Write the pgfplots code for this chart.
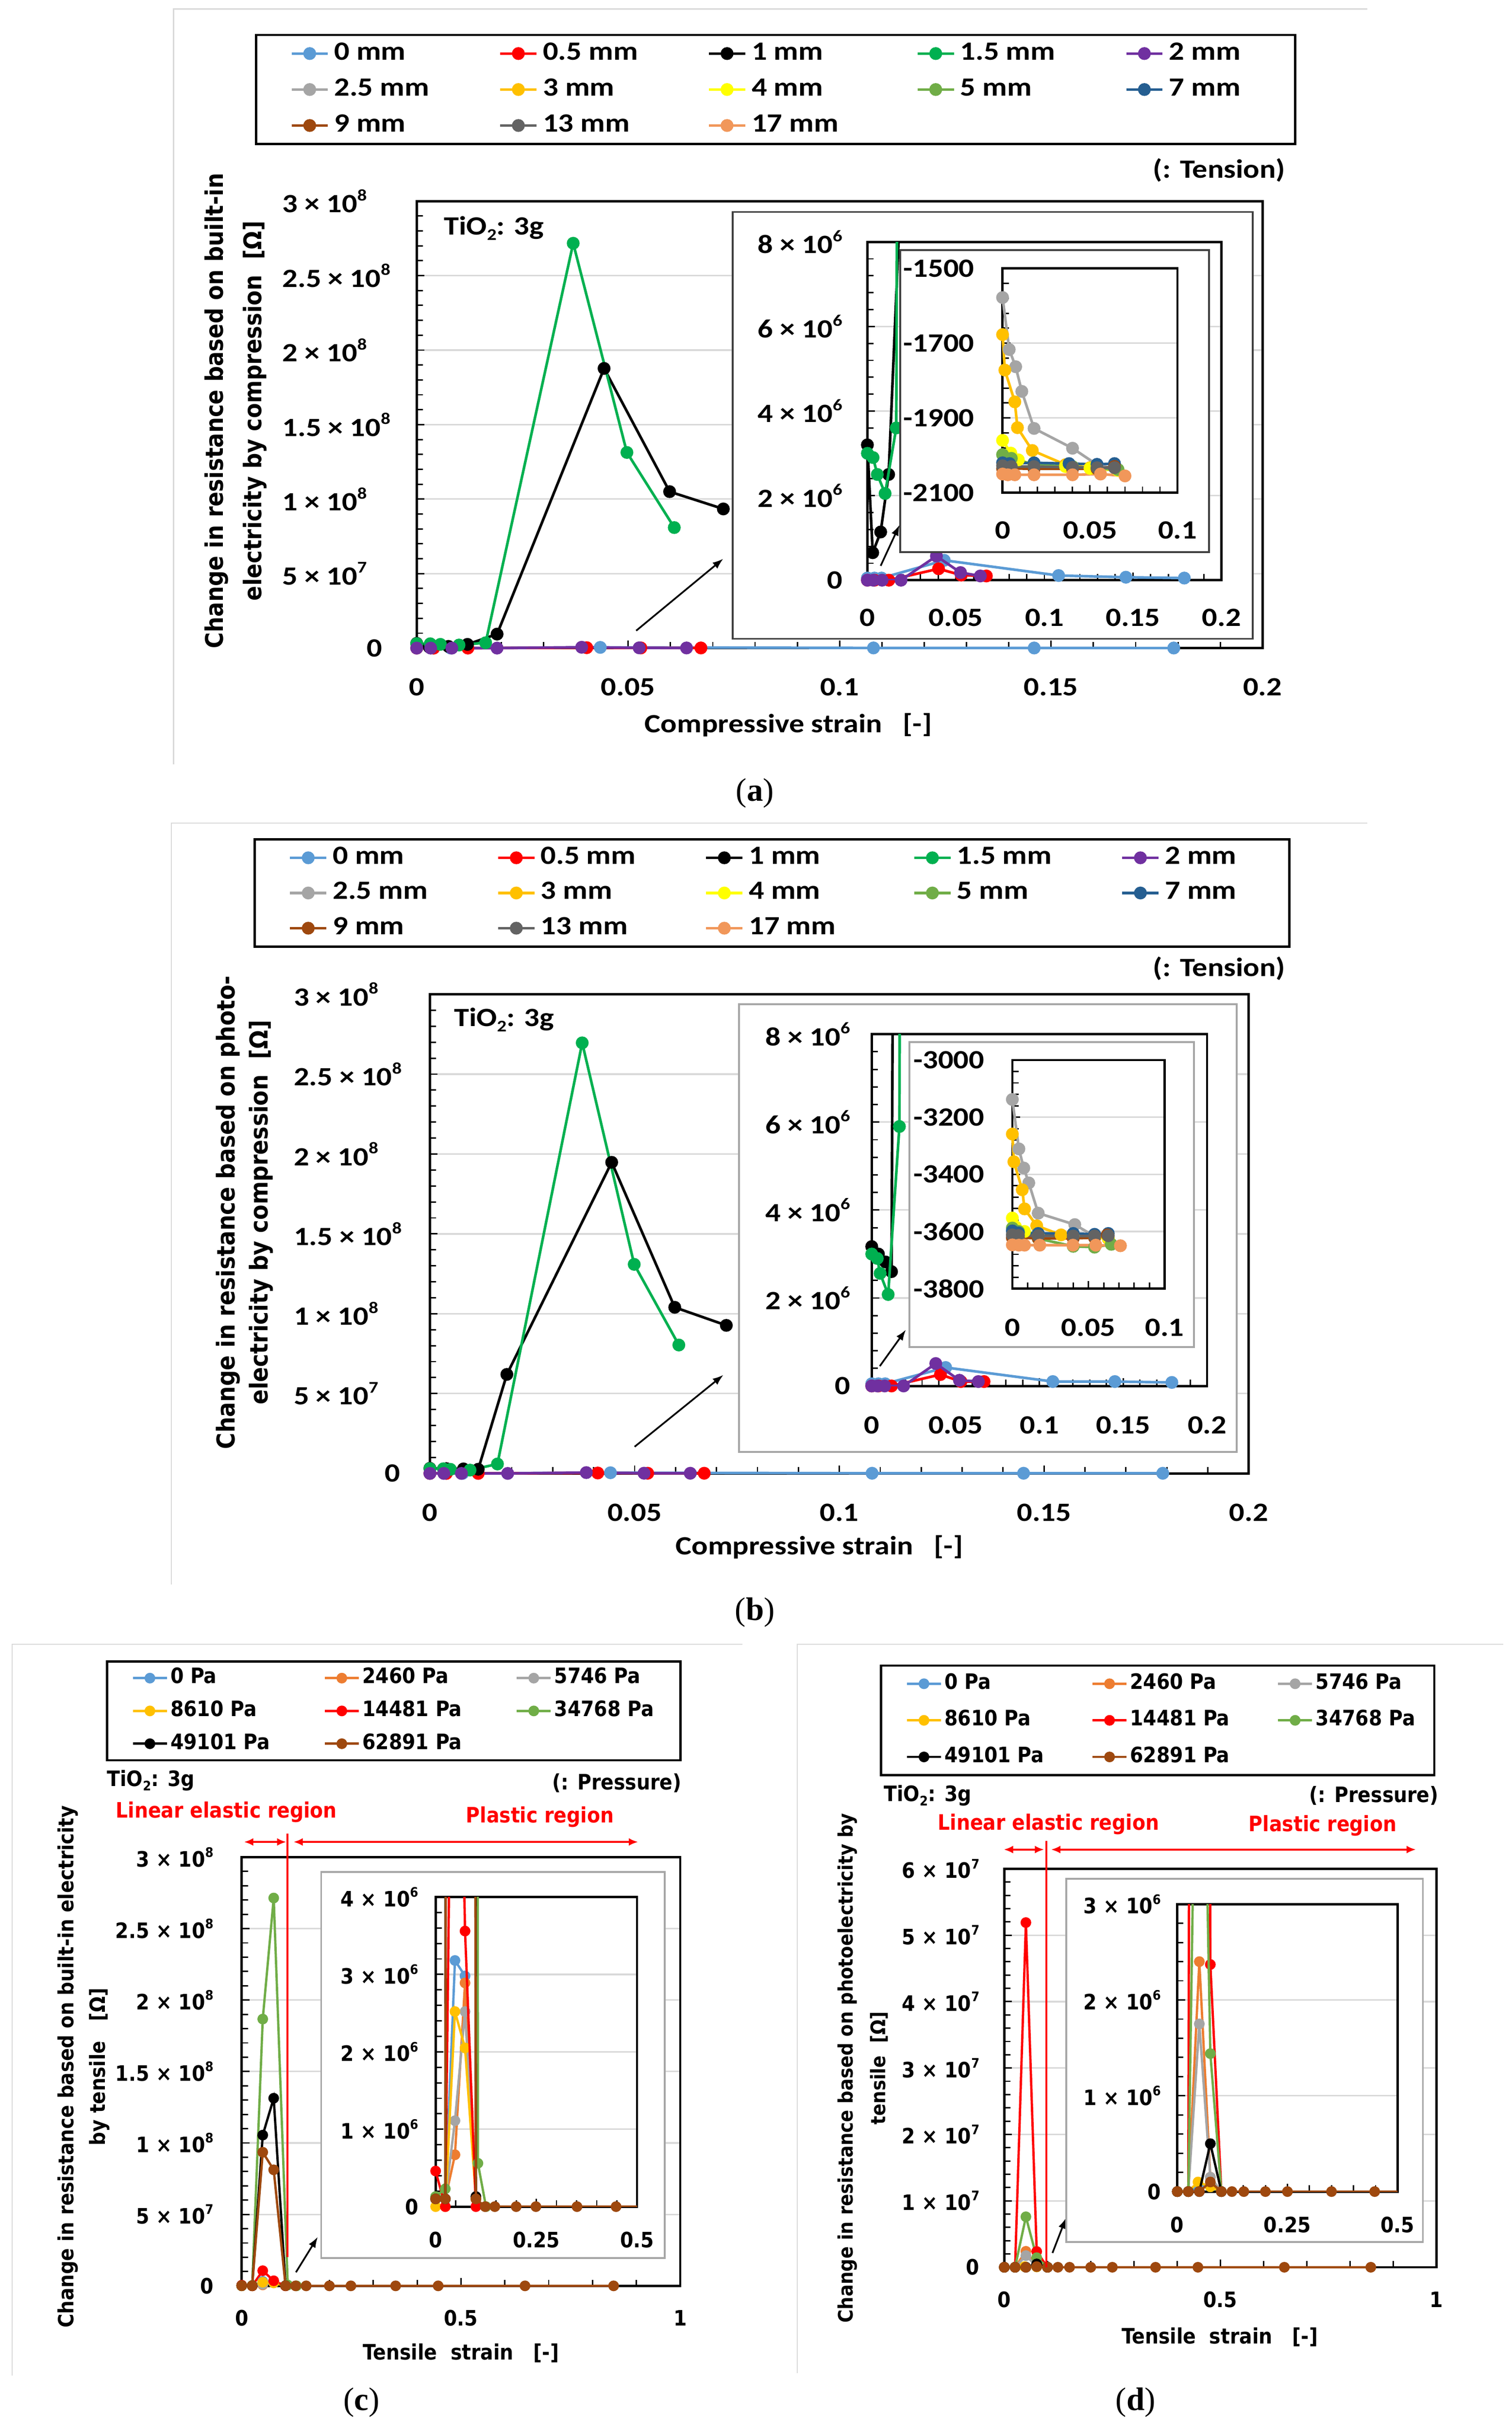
\documentclass[border=0pt]{standalone}
\usepackage{pgfplots}
\pgfplotsset{compat=1.18}
\usepackage{pgfplotstable}
\usepackage{graphicx}
\usepackage{fontspec}
\usetikzlibrary{arrows.meta}
\newfontfamily\fa{Carlito}[FakeStretch=1.15]
\newfontfamily\fb{DejaVu Sans}[FakeStretch=0.9]
\newfontfamily\fs{Liberation Serif}
\newcommand\fA{\fa\bfseries\fontsize{17}{19}\selectfont}
\newcommand\fC{\fb\bfseries\fontsize{13.7}{16}\selectfont}
\newcommand\sups[1]{\raisebox{0.45em}{\scalebox{0.62}{#1}}}
\newcommand\subs[1]{\raisebox{-0.2em}{\scalebox{0.62}{#1}}}
\newcommand\LA[1]{\makebox[102.9pt][l]{#1}}
\newcommand\LAe[1]{\makebox[56pt][l]{#1}}
\newcommand\LB[1]{\makebox[102.5pt][l]{#1}}
\newcommand\LBe[1]{\makebox[55pt][l]{#1}}
\newcommand\LC[1]{\makebox[97.3pt][l]{#1}}
\newcommand\LCe[1]{\makebox[64pt][l]{#1}}
\newcommand\LD[1]{\makebox[93.2pt][l]{#1}}
\newcommand\LDe[1]{\makebox[59pt][l]{#1}}

\definecolor{ma}{HTML}{5B9BD5}
\definecolor{mb}{HTML}{FF0000}
\definecolor{mc}{HTML}{000000}
\definecolor{md}{HTML}{00B050}
\definecolor{me}{HTML}{7030A0}
\definecolor{mf}{HTML}{A5A5A5}
\definecolor{mg}{HTML}{FFC000}
\definecolor{mh}{HTML}{FFFF00}
\definecolor{mi}{HTML}{70AD47}
\definecolor{mj}{HTML}{255E91}
\definecolor{mk}{HTML}{9E480E}
\definecolor{ml}{HTML}{636363}
\definecolor{mm}{HTML}{F1975A}
\definecolor{pa}{HTML}{5B9BD5}
\definecolor{pb}{HTML}{ED7D31}
\definecolor{pc}{HTML}{A5A5A5}
\definecolor{pd}{HTML}{FFC000}
\definecolor{pe}{HTML}{FF0000}
\definecolor{pf}{HTML}{70AD47}
\definecolor{pg}{HTML}{000000}
\definecolor{ph}{HTML}{9E480E}
\definecolor{grd}{HTML}{D9D9D9}
\definecolor{frmA}{HTML}{404040}
\definecolor{frmB}{HTML}{A6A6A6}

\tikzset{S/.style={color=#1, mark=*, mark options={solid, line width=0.5pt}},
  arr/.style={-{Latex[length=7pt,width=5pt]}, line width=1.1pt, black}}

\pgfplotsset{
 xl/.style={scale only axis, anchor=south west,
   axis line style={black, line width=1.5pt},
   tick align=inside, tick pos=left,
   major tick length=5pt, minor tick length=4pt,
   every tick/.style={black, line width=0.9pt},
   minor x tick num=4, minor y tick num=4,
   ymajorgrids, major grid style={draw=grd, line width=1pt},
   scaled x ticks=false, scaled y ticks=false,
   xticklabel style={anchor=base, inner sep=0pt},
   yticklabel style={inner sep=0pt},
 },
 pA/.style={every axis plot/.append style={line width=1.7pt, mark size=3.9pt}, tick label style={font=\fA}},
 pC/.style={every axis plot/.append style={line width=1.5pt, mark size=3.2pt}, tick label style={font=\fC}},
}

% ---------------- Panel (a) data ----------------
\pgfplotstableread{
x y
0 0.05e6
0.004 0.05e6
0.008 0.05e6
0.0434 0.47e6
0.108 0.11e6
0.146 0.07e6
0.179 0.05e6
}\tAa
\pgfplotstableread{
x y
0 0
0.004 0
0.0121 0
0.0402 0.27e6
0.053 0.12e6
0.0672 0.1e6
}\tAb
\pgfplotstableread{
x y
0 3.2e6
0.003 0.65e6
0.0075 1.14e6
0.012 2.5e6
0.019 9.4e6
0.0443 1.877e8
0.0598 1.05e8
0.0725 0.934e8
}\tAc
\pgfplotstableread{
x y
0 3.0e6
0.0032 2.9e6
0.0056 2.5e6
0.01 2.05e6
0.0163 3.6e6
0.037 2.717e8
0.0497 1.313e8
0.0609 0.809e8
}\tAd
\pgfplotstableread{
x y
0 0
0.0033 0
0.0083 0
0.019 0
0.039 0.57e6
0.0526 0.18e6
0.0638 0.1e6
}\tAe
\pgfplotstableread{
x y
0 -1578
0.0038 -1717
0.0075 -1763
0.011 -1829
0.018 -1928
0.040 -1981
0.054 -2025
0.066 -2038
}\tAf
\pgfplotstableread{
x y
0 -1677
0.0013 -1772
0.007 -1857
0.0085 -1926
0.017 -1987
0.036 -2025
0.05 -2033
0.066 -2040
}\tAg
\pgfplotstableread{
x y
0 -1960
0.0047 -1994
0.009 -2012
0.018 -2025
0.036 -2030
0.05 -2035
0.066 -2040
}\tAh
\pgfplotstableread{
x y
0 -1998
0.005 -2008
0.018 -2025
0.04 -2030
0.054 -2035
0.066 -2038
}\tAi
\pgfplotstableread{
x y
0 -2020
0.004 -2022
0.018 -2020
0.038 -2022
0.054 -2024
0.064 -2022
}\tAj
\pgfplotstableread{
x y
0 -2035
0.005 -2035
0.018 -2036
0.04 -2036
0.054 -2036
0.064 -2030
}\tAk
\pgfplotstableread{
x y
0 -2028
0.005 -2030
0.018 -2030
0.04 -2032
0.054 -2033
0.064 -2033
}\tAl
\pgfplotstableread{
x y
0 -2050
0.003 -2052
0.007 -2052
0.018 -2052
0.04 -2052
0.056 -2050
0.07 -2055
}\tAm

% ---------------- Panel (b) data ----------------
\pgfplotstableread{
x y
0 0.05e6
0.004 0.05e6
0.008 0.05e6
0.0441 0.42e6
0.108 0.1e6
0.145 0.1e6
0.179 0.08e6
}\tBa
\pgfplotstableread{
x y
0 0
0.004 0
0.0118 0
0.041 0.26e6
0.0532 0.1e6
0.067 0.1e6
}\tBb
\pgfplotstableread{
x y
0 3.17e6
0.004 3.0e6
0.0082 2.82e6
0.0118 2.6e6
0.0188 6.2e7
0.0444 1.948e8
0.0598 1.04e8
0.0724 0.927e8
}\tBc
\pgfplotstableread{
x y
0 3.0e6
0.0033 2.9e6
0.005 2.56e6
0.0098 2.08e6
0.0165 5.9e6
0.0372 2.696e8
0.0499 1.309e8
0.0608 0.804e8
}\tBd
\pgfplotstableread{
x y
0 0
0.0034 0
0.0077 0
0.019 0
0.0382 0.51e6
0.0523 0.13e6
0.0636 0.1e6
}\tBe
\pgfplotstableread{
x y
0 -3138
0.0043 -3311
0.0075 -3378
0.0108 -3430
0.017 -3536
0.041 -3576
0.054 -3617
0.063 -3625
}\tBf
\pgfplotstableread{
x y
0 -3259
0.001 -3356
0.0065 -3454
0.008 -3521
0.016 -3580
0.032 -3612
0.054 -3620
0.063 -3625
}\tBg
\pgfplotstableread{
x y
0 -3553
0.002 -3583
0.008 -3600
0.017 -3610
0.04 -3615
0.054 -3620
0.063 -3622
}\tBh
\pgfplotstableread{
x y
0 -3588
0.004 -3600
0.017 -3625
0.04 -3652
0.054 -3655
0.065 -3645
}\tBi
\pgfplotstableread{
x y
0 -3598
0.004 -3605
0.017 -3607
0.04 -3607
0.054 -3610
0.063 -3607
}\tBj
\pgfplotstableread{
x y
0 -3622
0.004 -3622
0.017 -3624
0.04 -3624
0.054 -3622
0.0624 -3612
}\tBk
\pgfplotstableread{
x y
0 -3612
0.004 -3614
0.017 -3615
0.04 -3616
0.054 -3616
0.063 -3615
}\tBl
\pgfplotstableread{
x y
0 -3647
0.0043 -3648
0.008 -3648
0.018 -3648
0.0398 -3648
0.0548 -3648
0.071 -3650
}\tBm

% ---------------- Panel (c) data ----------------
\pgfplotstableread{
x y
0 0.1e6
0.024 0.1e6
0.048 3.18e6
0.073 2.98e6
0.1 0.1e6
}\tCa
\pgfplotstableread{
x y
0 0.1e6
0.024 0.1e6
0.048 0.67e6
0.073 2.89e6
0.1 0.1e6
}\tCb
\pgfplotstableread{
x y
0 0.1e6
0.024 0.1e6
0.048 1.11e6
0.073 2.52e6
0.1 0.1e6
}\tCc
\pgfplotstableread{
x y
0 0
0.024 0
0.048 2.52e6
0.073 2.05e6
0.1 0.1e6
}\tCd
\pgfplotstableread{
x y
0 0.46e6
0.024 0
0.048 1.06e7
0.073 3.56e6
0.1 0
}\tCe
\pgfplotstableread{
x y
0 0.13e6
0.024 0.23e6
0.048 1.867e8
0.073 2.714e8
0.105 0.56e6
0.125 0
}\tCf
\pgfplotstableread{
x y
0 0.1e6
0.024 0.1e6
0.048 1.055e8
0.073 1.313e8
0.1 0.13e6
}\tCg
\pgfplotstableread{
x y
0 0.1e6
0.024 0.1e6
0.048 0.935e8
0.073 0.812e8
0.1 0.1e6
0.123 0
0.147 0
0.2 0
0.249 0
0.351 0
0.448 0
0.646 0
0.848 0
}\tCh

% ---------------- Panel (d) data ----------------
\pgfplotstableread{
x y
0 0
0.025 0
0.05 0.05e6
0.075 0.05e6
0.1 0
}\tDa
\pgfplotstableread{
x y
0 0
0.025 0
0.05 2.4e6
0.075 0.15e6
0.1 0
}\tDb
\pgfplotstableread{
x y
0 0
0.025 0
0.05 1.75e6
0.075 0.15e6
0.1 0
}\tDc
\pgfplotstableread{
x y
0 0
0.025 0
0.047 0.1e6
0.075 0.05e6
0.1 0
}\tDd
\pgfplotstableread{
x y
0 0
0.025 0
0.05 5.19e7
0.075 2.37e6
0.1 0
}\tDe
\pgfplotstableread{
x y
0 0
0.025 0
0.05 7.6e6
0.075 1.44e6
0.1 0
}\tDf
\pgfplotstableread{
x y
0 0
0.025 0
0.05 0
0.075 0.5e6
0.1 0
}\tDg
\pgfplotstableread{
x y
0 0
0.025 0
0.05 0
0.075 0.1e6
0.1 0
0.124 0
0.151 0
0.2 0
0.25 0
0.35 0
0.448 0
0.648 0
0.848 0
}\tDh

\newcommand\plotApos{%
 \addplot[S=ma] table {\tAa};
 \addplot[S=mb] table {\tAb};
 \addplot[S=mc] table {\tAc};
 \addplot[S=md] table {\tAd};
 \addplot[S=me] table {\tAe};}
\newcommand\plotAneg{%
 \addplot[S=mf] table {\tAf};
 \addplot[S=mg] table {\tAg};
 \addplot[S=mh] table {\tAh};
 \addplot[S=mi] table {\tAi};
 \addplot[S=mj] table {\tAj};
 \addplot[S=mk] table {\tAk};
 \addplot[S=ml] table {\tAl};
 \addplot[S=mm] table {\tAm};}
\newcommand\plotBpos{%
 \addplot[S=ma] table {\tBa};
 \addplot[S=mb] table {\tBb};
 \addplot[S=mc] table {\tBc};
 \addplot[S=md] table {\tBd};
 \addplot[S=me] table {\tBe};}
\newcommand\plotBneg{%
 \addplot[S=mf] table {\tBf};
 \addplot[S=mg] table {\tBg};
 \addplot[S=mh] table {\tBh};
 \addplot[S=mi] table {\tBi};
 \addplot[S=mj] table {\tBj};
 \addplot[S=mk] table {\tBk};
 \addplot[S=ml] table {\tBl};
 \addplot[S=mm] table {\tBm};}
\newcommand\negimages{%
 \addlegendimage{S=mf}\addlegendimage{S=mg}\addlegendimage{S=mh}\addlegendimage{S=mi}%
 \addlegendimage{S=mj}\addlegendimage{S=mk}\addlegendimage{S=ml}\addlegendimage{S=mm}}
\newcommand\plotC{%
 \addplot[S=pa] table {\tCa};
 \addplot[S=pb] table {\tCb};
 \addplot[S=pc] table {\tCc};
 \addplot[S=pd] table {\tCd};
 \addplot[S=pe] table {\tCe};
 \addplot[S=pf] table {\tCf};
 \addplot[S=pg] table {\tCg};
 \addplot[S=ph] table {\tCh};}
\newcommand\plotD{%
 \addplot[S=pa] table {\tDa};
 \addplot[S=pb] table {\tDb};
 \addplot[S=pc] table {\tDc};
 \addplot[S=pd] table {\tDd};
 \addplot[S=pe] table {\tDe};
 \addplot[S=pf] table {\tDf};
 \addplot[S=pg] table {\tDg};
 \addplot[S=ph] table {\tDh};}

\begin{document}
\begin{tikzpicture}
\path[use as bounding box] (0pt,0pt) rectangle (975pt,-1566pt);
\fill[white] (0pt,0pt) rectangle (975pt,-1566pt);
\draw[grd, line width=0.8pt] (882pt,-5.8pt) -- (112pt,-5.8pt) -- (112pt,-493pt);
\draw[grd, line width=0.8pt] (882pt,-530.8pt) -- (110.5pt,-530.8pt) -- (110.5pt,-1022pt);
\draw[grd, line width=0.8pt] (478.8pt,-1060.5pt) -- (7.8pt,-1060.5pt) -- (7.8pt,-1532pt);
\draw[grd, line width=0.8pt] (969.6pt,-1060.5pt) -- (514.3pt,-1060.5pt) -- (514.3pt,-1530.6pt);

%%%%%%%%%%%%%%%%%%%% (a) main
\begin{axis}[xl, pA, clip=false,
  at={(268.8pt,-418pt)}, width=545.6pt, height=288.3pt,
  xmin=0, xmax=0.2, ymin=0, ymax=3e8,
  xtick={0,0.05,0.1,0.15,0.2}, xticklabels={0,0.05,0.1,0.15,0.2},
  ytick={0,5e7,1e8,1.5e8,2e8,2.5e8,3e8},
  yticklabels={\hspace*{54.5pt}0,5 × 10\sups{7},1 × 10\sups{8},1.5 × 10\sups{8},2 × 10\sups{8},2.5 × 10\sups{8},3 × 10\sups{8}},
  yticklabel style={anchor=west, xshift=-86.8pt},
  xticklabel style={yshift=-30.8pt},
  xlabel={Compressive strain\ \ \ [-]},
  xlabel style={font=\fA, at={(axis description cs:0.4393,-0.172)}, anchor=center},
  ylabel={Change in resistance based on built-in\\electricity by compression\ \ [Ω]},
  ylabel style={font=\fb\bfseries\fontsize{15.7}{24.9}\selectfont, align=center, at={(axis description cs:-0.2141,0.5307)}, anchor=center},
  legend columns=5,
  legend style={at={(-0.1912,1.3743)}, anchor=north west, draw=black, line width=1.5pt, fill=white,
    inner xsep=22pt, inner ysep=4pt, row sep=7.2pt, font=\fA,
    nodes={inner xsep=3.3pt, inner ysep=0pt, text height=12pt, text depth=4pt}},
  legend image code/.code={\draw[mark repeat=2,mark phase=2,#1,line width=1.7pt,mark size=3.9pt] plot coordinates {(0pt,0pt) (11.7pt,0pt) (23.4pt,0pt)};},
  legend entries={\LA{0 mm},\LA{0.5 mm},\LA{1 mm},\LA{1.5 mm},\LAe{2 mm},\LA{2.5 mm},\LA{3 mm},\LA{4 mm},\LA{5 mm},\LAe{7 mm},\LA{9 mm},\LA{13 mm},\LA{17 mm}},
]
\plotApos
\negimages
\draw[arr] (axis cs:0.0519,1.17e7) -- (axis cs:0.0725,6.0e7);
\node[anchor=west, font=\fA, inner sep=0pt] at (rel axis cs:0.032,0.939) {TiO\subs{2}: 3g};
\end{axis}
\node[anchor=east, font=\fA, inner sep=0pt] at (829.3pt,-109.9pt) {(: Tension)};

% (a) inset 1
\filldraw[fill=white, draw=frmA, line width=1.2pt] (472.6pt,-136.7pt) rectangle (808pt,-412pt);
\begin{axis}[xl, pA, clip mode=individual,
  at={(559.5pt,-374.2pt)}, width=228.4pt, height=218.2pt,
  xmin=0, xmax=0.2, ymin=0, ymax=8e6,
  xtick={0,0.05,0.1,0.15,0.2}, xticklabels={0,0.05,0.1,0.15,0.2},
  ytick={0,2e6,4e6,6e6,8e6},
  yticklabels={0,2 × 10\sups{6},4 × 10\sups{6},6 × 10\sups{6},8 × 10\sups{6}},
  yticklabel style={anchor=east, xshift=-16pt},
  xticklabel style={yshift=-29.7pt},
]
\plotApos
\draw[arr] (axis cs:0.0075,0.34e6) -- (axis cs:0.0182,1.31e6);
\end{axis}

% (a) inset 2
\filldraw[fill=white, draw=frmA, line width=1.2pt] (580.7pt,-161.2pt) rectangle (779.8pt,-356pt);
\begin{axis}[xl, pA, clip=false,
  at={(646.7pt,-317.8pt)}, width=112.8pt, height=144.7pt,
  xmin=0, xmax=0.1, ymin=-2100, ymax=-1500,
  xtick={0,0.05,0.1}, xticklabels={0,0.05,0.1},
  ytick={-2100,-1900,-1700,-1500},
  yticklabels={-2100,-1900,-1700,-1500},
  yticklabel style={anchor=east, xshift=-18.1pt},
  xticklabel style={yshift=-29.7pt},
]
\plotAneg
\end{axis}

%%%%%%%%%%%%%%%%%%%% (b) main
\begin{axis}[xl, pA, clip=false,
  at={(277.3pt,-950.3pt)}, width=528.2pt, height=309pt,
  xmin=0, xmax=0.2, ymin=0, ymax=3e8,
  xtick={0,0.05,0.1,0.15,0.2}, xticklabels={0,0.05,0.1,0.15,0.2},
  ytick={0,5e7,1e8,1.5e8,2e8,2.5e8,3e8},
  yticklabels={\hspace*{58.7pt}0,5 × 10\sups{7},1 × 10\sups{8},1.5 × 10\sups{8},2 × 10\sups{8},2.5 × 10\sups{8},3 × 10\sups{8}},
  yticklabel style={anchor=west, xshift=-88pt},
  xticklabel style={yshift=-30.8pt},
  xlabel={Compressive strain\ \ \ [-]},
  xlabel style={font=\fA, at={(axis description cs:0.4756,-0.154)}, anchor=center},
  ylabel={Change in resistance based on photo-\\electricity by compression\ \ [Ω]},
  ylabel style={font=\fb\bfseries\fontsize{15.9}{21.3}\selectfont, align=center, at={(axis description cs:-0.2262,0.5447)}, anchor=center},
  legend columns=5,
  legend style={at={(-0.2154,1.3262)}, anchor=north west, draw=black, line width=1.5pt, fill=white,
    inner xsep=22pt, inner ysep=4pt, row sep=6.7pt, font=\fA,
    nodes={inner xsep=3.3pt, inner ysep=0pt, text height=12pt, text depth=4pt}},
  legend image code/.code={\draw[mark repeat=2,mark phase=2,#1,line width=1.7pt,mark size=3.9pt] plot coordinates {(0pt,0pt) (11.7pt,0pt) (23.4pt,0pt)};},
  legend entries={\LB{0 mm},\LB{0.5 mm},\LB{1 mm},\LB{1.5 mm},\LBe{2 mm},\LB{2.5 mm},\LB{3 mm},\LB{4 mm},\LB{5 mm},\LBe{7 mm},\LB{9 mm},\LB{13 mm},\LB{17 mm}},
]
\plotBpos
\negimages
\draw[arr] (axis cs:0.05,1.67e7) -- (axis cs:0.0717,6.17e7);
\node[anchor=west, font=\fA, inner sep=0pt] at (rel axis cs:0.0292,0.9466) {TiO\subs{2}: 3g};
\end{axis}
\node[anchor=east, font=\fA, inner sep=0pt] at (829.3pt,-624.8pt) {(: Tension)};

% (b) inset 1
\filldraw[fill=white, draw=frmB, line width=1.2pt] (476.8pt,-647.8pt) rectangle (797.6pt,-936.4pt);
\begin{axis}[xl, pA, clip mode=individual,
  at={(562.3pt,-893.9pt)}, width=216.3pt, height=226.9pt,
  xmin=0, xmax=0.2, ymin=0, ymax=8e6,
  xtick={0,0.05,0.1,0.15,0.2}, xticklabels={0,0.05,0.1,0.15,0.2},
  ytick={0,2e6,4e6,6e6,8e6},
  yticklabels={0,2 × 10\sups{6},4 × 10\sups{6},6 × 10\sups{6},8 × 10\sups{6}},
  yticklabel style={anchor=east, xshift=-13.8pt},
  xticklabel style={yshift=-30.8pt},
]
\plotBpos
\draw[arr] (axis cs:0.0048,0.45e6) -- (axis cs:0.0204,1.28e6);
\end{axis}

% (b) inset 2
\filldraw[fill=white, draw=frmB, line width=1.2pt] (586.5pt,-672.2pt) rectangle (770.2pt,-868.8pt);
\begin{axis}[xl, pA, clip=false,
  at={(653pt,-831.1pt)}, width=98.2pt, height=147.4pt,
  xmin=0, xmax=0.1, ymin=-3800, ymax=-3000,
  xtick={0,0.05,0.1}, xticklabels={0,0.05,0.1},
  ytick={-3800,-3600,-3400,-3200,-3000},
  yticklabels={-3800,-3600,-3400,-3200,-3000},
  yticklabel style={anchor=east, xshift=-17.9pt},
  xticklabel style={yshift=-30.7pt},
]
\plotBneg
\end{axis}

%%%%%%%%%%%%%%%%%%%% (c) main
\begin{axis}[xl, pC, clip=false,
  at={(155.9pt,-1474.3pt)}, width=282.9pt, height=276.5pt,
  xmin=0, xmax=1, ymin=0, ymax=3e8,
  xtick={0,0.5,1}, xticklabels={0,0.5,1},
  ytick={0,5e7,1e8,1.5e8,2e8,2.5e8,3e8},
  yticklabels={0,5 × 10\sups{7},1 × 10\sups{8},1.5 × 10\sups{8},2 × 10\sups{8},2.5 × 10\sups{8},3 × 10\sups{8}},
  yticklabel style={anchor=east, xshift=-18pt},
  xticklabel style={yshift=-25.8pt},
  xlabel={Tensile\ \ strain\ \ \ [-]},
  xlabel style={font=\fC, at={(axis description cs:0.4998,-0.1566)}, anchor=center},
  ylabel={Change in resistance based on built-in electricity\\by tensile\ \ \ [Ω]},
  ylabel style={font=\fb\bfseries\fontsize{13.5}{20.4}\selectfont, align=center, at={(axis description cs:-0.3602,0.511)}, anchor=center},
  legend columns=3,
  legend style={at={(-0.31,1.459)}, anchor=north west, draw=black, line width=1.5pt, fill=white,
    inner xsep=16pt, inner ysep=4.2pt, row sep=8.15pt, font=\fC,
    nodes={inner xsep=1.5pt, inner ysep=0pt, text height=10pt, text depth=3pt}},
  legend image code/.code={\draw[mark repeat=2,mark phase=2,#1,line width=1.5pt,mark size=3.2pt] plot coordinates {(0pt,0pt) (11pt,0pt) (22pt,0pt)};},
  legend entries={\LC{0 Pa},\LC{2460 Pa},\LCe{5746 Pa},\LC{8610 Pa},\LC{14481 Pa},\LCe{34768 Pa},\LC{49101 Pa},\LC{62891 Pa}},
]
\plotC
\draw[arr] (axis cs:0.1237,9.5e6) -- (axis cs:0.1736,3.43e7);
\end{axis}
\node[anchor=west, font=\fC, inner sep=0pt] at (68.9pt,-1148.3pt) {TiO\subs{2}: 3g};
\node[anchor=east, font=\fC, inner sep=0pt] at (439.7pt,-1150pt) {(: Pressure)};
\node[anchor=west, font=\fC, text=red, inner sep=0pt] at (74.5pt,-1168.8pt) {Linear elastic region};
\node[anchor=west, font=\fC, text=red, inner sep=0pt] at (300.4pt,-1171.7pt) {Plastic region};
\draw[red, line width=1.3pt, {Latex[length=6pt,width=5pt]}-{Latex[length=6pt,width=5pt]}] (157.4pt,-1188pt) -- (184.7pt,-1188pt);
\draw[red, line width=1.3pt, {Latex[length=6pt,width=5pt]}-{Latex[length=6pt,width=5pt]}] (189.3pt,-1188pt) -- (411.6pt,-1188pt);
\draw[red, line width=1.3pt] (185.3pt,-1182.5pt) -- (185.3pt,-1455.8pt);

% (c) inset
\filldraw[fill=white, draw=frmB, line width=1.2pt] (207.2pt,-1207.5pt) rectangle (428.8pt,-1456.4pt);
\begin{axis}[xl, pC, clip mode=individual,
  at={(281pt,-1423.2pt)}, width=129.9pt, height=199.7pt,
  xmin=0, xmax=0.5, ymin=0, ymax=4e6,
  xtick={0,0.25,0.5}, xticklabels={0,0.25,0.5},
  ytick={0,1e6,2e6,3e6,4e6},
  yticklabels={0,1 × 10\sups{6},2 × 10\sups{6},3 × 10\sups{6},4 × 10\sups{6}},
  yticklabel style={anchor=east, xshift=-11pt},
  xticklabel style={yshift=-26.4pt},
]
\plotC
\end{axis}

%%%%%%%%%%%%%%%%%%%% (d) main
\begin{axis}[xl, pC, clip=false,
  at={(647.8pt,-1462.3pt)}, width=278.8pt, height=257pt,
  xmin=0, xmax=1, ymin=0, ymax=6e7,
  xtick={0,0.5,1}, xticklabels={0,0.5,1},
  ytick={0,1e7,2e7,3e7,4e7,5e7,6e7},
  yticklabels={0,1 × 10\sups{7},2 × 10\sups{7},3 × 10\sups{7},4 × 10\sups{7},5 × 10\sups{7},6 × 10\sups{7}},
  yticklabel style={anchor=east, xshift=-15.8pt},
  xticklabel style={yshift=-25.7pt},
  xlabel={Tensile\ \ strain\ \ \ [-]},
  xlabel style={font=\fC, at={(axis description cs:0.4986,-0.1747)}, anchor=center},
  ylabel={Change in resistance based on photoelectricity by\\tensile\ \ [Ω]},
  ylabel style={font=\fb\bfseries\fontsize{12.9}{20.8}\selectfont, align=center, at={(axis description cs:-0.3271,0.5)}, anchor=center},
  legend columns=3,
  legend style={at={(-0.288,1.5128)}, anchor=north west, draw=black, line width=1.5pt, fill=white,
    inner xsep=16pt, inner ysep=5.2pt, row sep=10.6pt, font=\fC,
    nodes={inner xsep=1.5pt, inner ysep=0pt, text height=10pt, text depth=3pt}},
  legend image code/.code={\draw[mark repeat=2,mark phase=2,#1,line width=1.5pt,mark size=3.2pt] plot coordinates {(0pt,0pt) (11pt,0pt) (22pt,0pt)};},
  legend entries={\LD{0 Pa},\LD{2460 Pa},\LDe{5746 Pa},\LD{8610 Pa},\LD{14481 Pa},\LDe{34768 Pa},\LD{49101 Pa},\LD{62891 Pa}},
]
\plotD
\draw[arr] (axis cs:0.1115,2.15e6) -- (axis cs:0.143,7.45e6);
\end{axis}
\node[anchor=west, font=\fC, inner sep=0pt] at (569.9pt,-1158.1pt) {TiO\subs{2}: 3g};
\node[anchor=east, font=\fC, inner sep=0pt] at (928.1pt,-1158.1pt) {(: Pressure)};
\node[anchor=west, font=\fC, text=red, inner sep=0pt] at (604.8pt,-1176.6pt) {Linear elastic region};
\node[anchor=west, font=\fC, text=red, inner sep=0pt] at (805.3pt,-1177.6pt) {Plastic region};
\draw[red, line width=1.3pt, {Latex[length=6pt,width=5pt]}-{Latex[length=6pt,width=5pt]}] (647.5pt,-1192.9pt) -- (673.5pt,-1192.9pt);
\draw[red, line width=1.3pt, {Latex[length=6pt,width=5pt]}-{Latex[length=6pt,width=5pt]}] (678pt,-1192.9pt) -- (913.3pt,-1192.9pt);
\draw[red, line width=1.3pt] (675pt,-1187.4pt) -- (675pt,-1462.3pt);

% (d) inset
\filldraw[fill=white, draw=frmB, line width=1.2pt] (687.7pt,-1211.8pt) rectangle (917.8pt,-1446pt);
\begin{axis}[xl, pC, clip mode=individual,
  at={(759.4pt,-1413.5pt)}, width=142.1pt, height=185.4pt,
  xmin=0, xmax=0.5, ymin=0, ymax=3e6,
  xtick={0,0.25,0.5}, xticklabels={0,0.25,0.5},
  ytick={0,1e6,2e6,3e6},
  yticklabels={0,1 × 10\sups{6},2 × 10\sups{6},3 × 10\sups{6}},
  yticklabel style={anchor=east, xshift=-10.4pt},
  xticklabel style={yshift=-26.4pt},
]
\plotD
\end{axis}

% captions
\node[font=\fs\fontsize{21}{23}\selectfont] at (487pt,-511.6pt) {(\textbf{a})};
\node[font=\fs\fontsize{21}{23}\selectfont] at (487pt,-1040pt) {(\textbf{b})};
\node[font=\fs\fontsize{21}{23}\selectfont] at (233.2pt,-1549.6pt) {(\textbf{c})};
\node[font=\fs\fontsize{21}{23}\selectfont] at (732.5pt,-1549.6pt) {(\textbf{d})};
\end{tikzpicture}
\end{document}
